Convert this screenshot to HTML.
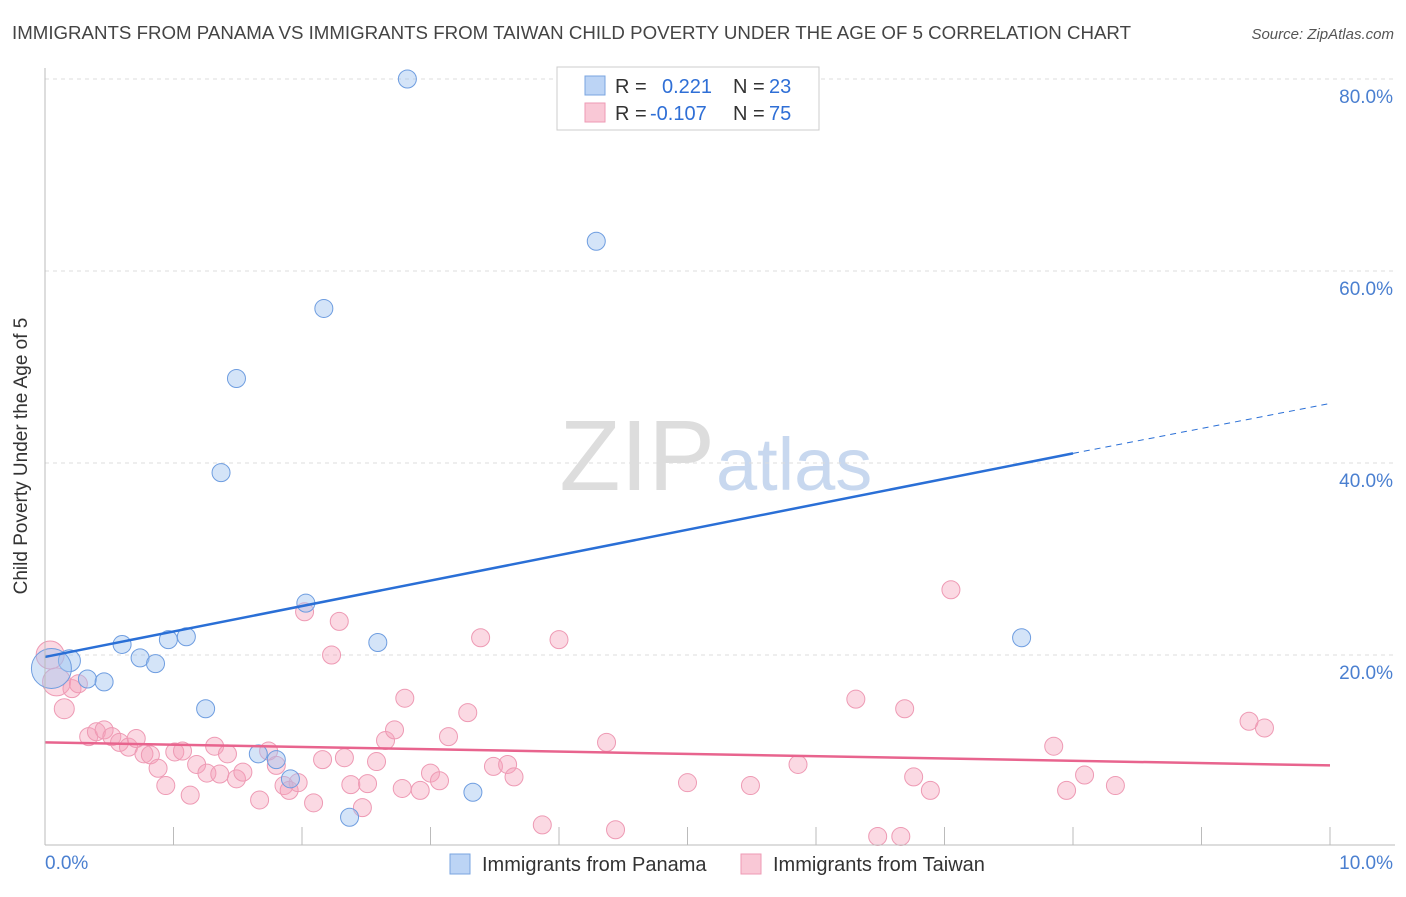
<!DOCTYPE html>
<html><head><meta charset="utf-8"><style>
body{margin:0;background:#fff;font-family:"Liberation Sans",sans-serif}
svg text{font-family:"Liberation Sans",sans-serif}
</style></head><body>
<svg id="c" width="1406" height="892" xmlns="http://www.w3.org/2000/svg">
<text x="12" y="39" font-size="18" fill="#444" textLength="1119" lengthAdjust="spacingAndGlyphs">IMMIGRANTS FROM PANAMA VS IMMIGRANTS FROM TAIWAN CHILD POVERTY UNDER THE AGE OF 5 CORRELATION CHART</text>
<text x="1394" y="39" font-size="15" fill="#555" font-style="italic" text-anchor="end">Source: ZipAtlas.com</text>
<text x="715" y="490" font-size="100" fill="#ddd" text-anchor="end" font-family="Liberation Serif">ZIP</text>
<text x="716" y="490" font-size="74" fill="#c8d8ef">atlas</text>
<g id="grid"></g>
<g id="marks"></g>
<line x1="45" y1="68" x2="45" y2="845" stroke="#bbb"/>
<line x1="45" y1="845" x2="1395" y2="845" stroke="#bbb"/>
<text x="27" y="456" font-size="19" fill="#333" text-anchor="middle" transform="rotate(-90 27 456)">Child Poverty Under the Age of 5</text>
<text x="45" y="869" font-size="19" fill="#4a7fd0">0.0%</text>
<text x="1393" y="869" font-size="19" fill="#4a7fd0" text-anchor="end">10.0%</text>
<g>
<rect x="557" y="67" width="262" height="63" fill="#fff" stroke="#ccc"/>
<rect x="585" y="76" width="20" height="19" fill="#bcd4f5" stroke="#7aa5e0"/>
<rect x="585" y="103" width="20" height="19" fill="#f9c8d6" stroke="#ee9ab4"/>
<text x="615" y="93" font-size="20" fill="#333">R = </text><text x="662" y="93" font-size="20" fill="#2f6fd6">0.221</text>
<text x="733" y="93" font-size="20" fill="#333">N = </text><text x="769" y="93" font-size="20" fill="#2f6fd6">23</text>
<text x="615" y="120" font-size="20" fill="#333">R = </text><text x="650" y="120" font-size="20" fill="#2f6fd6">-0.107</text>
<text x="733" y="120" font-size="20" fill="#333">N = </text><text x="769" y="120" font-size="20" fill="#2f6fd6">75</text>
</g>
<g>
<rect x="450" y="854" width="20" height="20" fill="#bcd4f5" stroke="#7aa5e0"/>
<text x="482" y="871" font-size="20" fill="#333">Immigrants from Panama</text>
<rect x="741" y="854" width="20" height="20" fill="#f9c8d6" stroke="#ee9ab4"/>
<text x="773" y="871" font-size="20" fill="#333">Immigrants from Taiwan</text>
</g>
</svg>
<script>
const yTicks=[20,40,60,80];
const yTickLabels=["20.0%","40.0%","60.0%","80.0%"];
const xTicks=[1,2,3,4,5,6,7,8,9,10];
const panamaX=[2.82,4.29,2.17,1.49,1.37,2.03,0.60,0.96,1.10,2.59,0.74,0.86,0.19,0.33,0.46,1.25,1.66,1.80,1.91,2.37,3.33,7.60,0.05];
const panamaY=[80.0,63.1,56.1,48.8,39.0,25.4,21.1,21.6,21.9,21.3,19.7,19.1,19.4,17.5,17.2,14.4,9.7,9.1,7.1,3.1,5.7,21.8,18.6];
const taiwanPx=[50,57,64,72,79,89,97,104,112,119,129,136,144,151,158,166,175,182,190,197,207,214,220,228,236,243,260,268,276,284,289,298,314,305,322,331,339,345,351,363,368,377,385,395,402,405,420,431,439,448,468,481,493,507,514,542,559,607,616,687,750,798,856,878,901,905,914,930,951,1054,1066,1085,1116,1249,1264];
const taiwanPy=[655,682,709,689,684,737,732,730,737,742,747,739,754,755,768,786,752,751,795,764,773,746,774,754,779,772,800,751,765,786,790,783,803,612,760,655,621,758,785,808,784,762,740,730,788,698,790,773,781,737,713,638,766,764,777,825,640,742,830,783,786,764,699,836,836,709,777,790,590,746,790,775,786,721,728];
const taiwanX=taiwanPx.map(p=>+((p-45)/128.5).toFixed(2));
const taiwanY=taiwanPy.map(p=>+((847-p)/9.6).toFixed(1));
const trendPanamaX=[0,8,10];
const trendPanamaY=[19.8,41.0,46.2];
const trendTaiwanX=[0,10];
const trendTaiwanY=[10.9,8.5];
const X=v=>45+v*128.5, Y=v=>847-v*9.6;
const NS="http://www.w3.org/2000/svg";
const grid=document.getElementById('grid'), marks=document.getElementById('marks');
function mk(tag,attrs,parent){const e=document.createElementNS(NS,tag);for(const k in attrs)e.setAttribute(k,attrs[k]);parent.appendChild(e);return e;}
yTicks.forEach((t,i)=>{
 const l=mk('line',{x1:45,x2:1395,y1:Y(t),y2:Y(t),stroke:'#ddd','stroke-dasharray':'4,4'},grid);
 
 
 const tx=mk('text',{x:1393,y:Y(t)+24,'font-size':19,fill:'#4a7fd0','text-anchor':'end'},grid);
 tx.textContent=yTickLabels[i];
 
 
});
xTicks.forEach(t=>{
 const l=mk('line',{x1:X(t),x2:X(t),y1:827,y2:845,stroke:'#bbb'},grid);
 
 
});
taiwanX.forEach((x,i)=>{
 const r=i<2?14:(i<3?10:9);
 const c=mk('circle',{cx:X(x),cy:Y(taiwanY[i]),r:r,fill:'rgba(244,160,185,0.4)',stroke:'#ee9ab4','stroke-width':1},marks);
 
 
});
panamaX.forEach((x,i)=>{
 const r=i==22?20:(i==12?11:9);
 const c=mk('circle',{cx:X(x),cy:Y(panamaY[i]),r:r,fill:'rgba(160,195,240,0.45)',stroke:'#6e9de0','stroke-width':1},marks);
 
 
});
let t1=mk('line',{x1:X(trendPanamaX[0]),y1:Y(trendPanamaY[0]),x2:X(trendPanamaX[1]),y2:Y(trendPanamaY[1]),stroke:'#2a6fd6','stroke-width':2.5},marks);


let t2=mk('line',{x1:X(trendPanamaX[1]),y1:Y(trendPanamaY[1]),x2:X(trendPanamaX[2]),y2:Y(trendPanamaY[2]),stroke:'#2a6fd6','stroke-width':1,'stroke-dasharray':'6,5'},marks);


let t3=mk('line',{x1:X(trendTaiwanX[0]),y1:Y(trendTaiwanY[0]),x2:X(trendTaiwanX[1]),y2:Y(trendTaiwanY[1]),stroke:'#e8648e','stroke-width':2.5},marks);


</script>
</body></html>
